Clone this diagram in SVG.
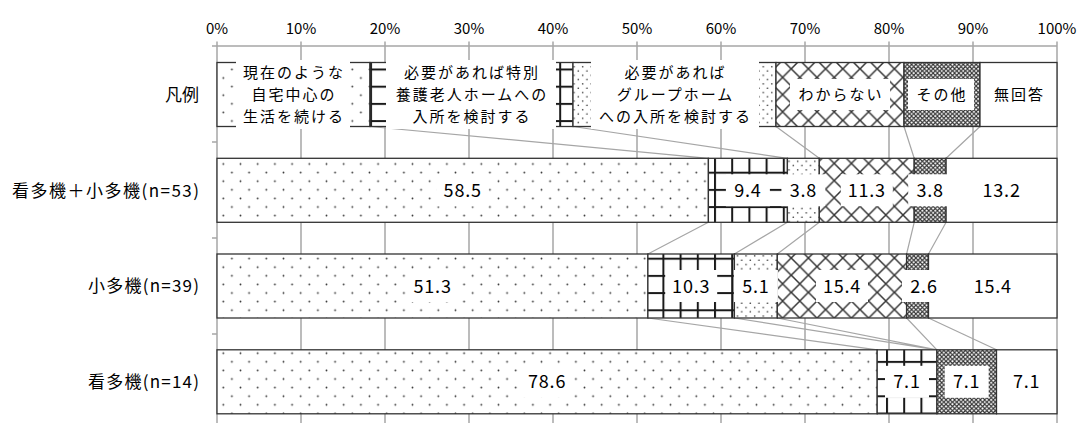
<svg xmlns="http://www.w3.org/2000/svg" width="1078" height="423" viewBox="0 0 1078 423">
<style>
text{font-family:"Noto Sans CJK JP","Noto Sans CJK SC",sans-serif;fill:#000}
.ax{font-size:15px;text-anchor:middle}
.val{font-size:18px;text-anchor:middle;letter-spacing:0.8px}
.leg{font-size:15px;text-anchor:middle;letter-spacing:2px}
.cat{font-size:17px;text-anchor:end}
.seg{stroke:#333;stroke-width:1.3}
.gl{stroke:#a6a6a6;stroke-width:1.5;fill:none}
.conn{stroke:#a6a6a6;stroke-width:1.2;fill:none}
.box{fill:#fff}
.dots{fill:url(#pDots)}
.grid{fill:url(#pGrid)}
.fine{fill:url(#pFine)}
.dia{fill:url(#pDia)}
.oth{fill:url(#pOth)}
.wht{fill:#fff}
</style>
<defs>
<pattern id="pDots" patternUnits="userSpaceOnUse" x="219" y="159.7" width="17.2" height="17.2">
<rect width="17.2" height="17.2" fill="#fff"/>
<circle cx="4.3" cy="4.3" r="0.9" fill="#333"/>
<circle cx="12.9" cy="12.9" r="0.9" fill="#333"/>
</pattern>
<pattern id="pGrid" patternUnits="userSpaceOnUse" x="714" y="171.7" width="17.2" height="17.2">
<rect width="17.2" height="17.2" fill="#fff"/>
<rect width="2" height="17.2" fill="#1a1a1a"/>
<rect width="17.2" height="2" fill="#1a1a1a"/>
</pattern>
<pattern id="pFine" patternUnits="userSpaceOnUse" x="0" y="0" width="8.6" height="8.6">
<rect width="8.6" height="8.6" fill="#fff"/>
<circle cx="2.15" cy="2.15" r="0.8" fill="#333"/>
<circle cx="6.45" cy="6.45" r="0.8" fill="#333"/>
</pattern>
<pattern id="pDia" patternUnits="userSpaceOnUse" x="0" y="0" width="17.2" height="17.2">
<rect width="17.2" height="17.2" fill="#fff"/>
<path d="M0 0L17.2 17.2M17.2 0L0 17.2" stroke="#333" stroke-width="1.5"/>
</pattern>
<pattern id="pOth" patternUnits="userSpaceOnUse" x="0" y="0" width="4.3" height="4.3">
<rect width="4.3" height="4.3" fill="#fff"/>
<path d="M0 0L4.3 4.3M4.3 0L0 4.3" stroke="#333" stroke-width="1.1"/>
</pattern>
</defs>
<rect width="1078" height="423" fill="#fff"/>

<g id="axes">
<path class="gl" d="M217 41.5V423M301 41.5V423M385 41.5V423M469 41.5V423M553 41.5V423M637 41.5V423M721 41.5V423M805 41.5V423M889 41.5V423M973 41.5V423M1057 41.5V423"/>
<path class="gl" d="M217 46H1057M212 46H217M212 142H217M212 238H217M212 334H217"/>
<text class="ax" x="217" y="33.5">0%</text>
<text class="ax" x="301" y="33.5">10%</text>
<text class="ax" x="385" y="33.5">20%</text>
<text class="ax" x="469" y="33.5">30%</text>
<text class="ax" x="553" y="33.5">40%</text>
<text class="ax" x="637" y="33.5">50%</text>
<text class="ax" x="721" y="33.5">60%</text>
<text class="ax" x="805" y="33.5">70%</text>
<text class="ax" x="889" y="33.5">80%</text>
<text class="ax" x="973" y="33.5">90%</text>
<text class="ax" x="1057" y="33.5">100%</text>
</g>

<g id="connectors">
<path class="conn" d="M370 126.5L708.4 158.3M573 126.5L787.4 158.3M776 126.5L819.3 158.3M904 126.5L914.2 158.3M980 126.5L946.1 158.3"/>
<path class="conn" d="M708.4 222.3L647.9 254M787.4 222.3L734.4 254M819.3 222.3L777.3 254M914.2 222.3L906.6 254M946.1 222.3L928.5 254"/>
<path class="conn" d="M647.9 318L877.2 349.8M734.4 318L936.9 349.8M777.3 318L936.9 349.8M906.6 318L936.9 349.8M928.5 318L996.5 349.8"/>
</g>

<g id="legend">
<text class="cat" x="199" y="100.7" textLength="34" lengthAdjust="spacing">凡例</text>
<rect class="seg dots" x="217" y="62.5" width="153" height="64"/>
<rect class="seg grid" x="370" y="62.5" width="203" height="64"/>
<rect class="seg fine" x="573" y="62.5" width="203" height="64"/>
<rect class="seg dia" x="776" y="62.5" width="128" height="64"/>
<rect class="seg oth" x="904" y="62.5" width="76" height="64"/>
<rect class="seg wht" x="980" y="62.5" width="77" height="64"/>
<rect class="box" x="236" y="60" width="114" height="69"/>
<rect class="box" x="386" y="60" width="170" height="69"/>
<rect class="box" x="591" y="60" width="168" height="69"/>
<rect class="box" x="790" y="79" width="100" height="31"/>
<rect class="box" x="908" y="79" width="66" height="31"/>
<text class="leg" x="294" y="78.3">現在のような</text>
<text class="leg" x="294" y="100.3">自宅中心の</text>
<text class="leg" x="294" y="122.3">生活を続ける</text>
<text class="leg" x="472" y="78.3">必要があれば特別</text>
<text class="leg" x="472" y="100.3">養護老人ホームへの</text>
<text class="leg" x="472" y="122.3">入所を検討する</text>
<text class="leg" x="675.5" y="78.3">必要があれば</text>
<text class="leg" x="675.5" y="100.3">グループホーム</text>
<text class="leg" x="675.5" y="122.3">への入所を検討する</text>
<text class="leg" x="841" y="100.3">わからない</text>
<text class="leg" x="942" y="100.3">その他</text>
<text class="leg" x="1019.5" y="100.3">無回答</text>
</g>

<g id="bar-n53">
<text class="cat" x="199" y="196.5" textLength="187" lengthAdjust="spacing">看多機＋小多機(n=53)</text>
<rect class="seg dots" x="217" y="158.3" width="491.4" height="64"/>
<rect class="seg grid" x="708.4" y="158.3" width="79" height="64"/>
<rect class="seg fine" x="787.4" y="158.3" width="31.9" height="64"/>
<rect class="seg dia" x="819.3" y="158.3" width="94.9" height="64"/>
<rect class="seg oth" x="914.2" y="158.3" width="31.9" height="64"/>
<rect class="seg wht" x="946.1" y="158.3" width="110.9" height="64"/>
<rect class="box" x="436.7" y="174.3" width="52" height="32"/>
<rect class="box" x="725.9" y="174.3" width="44" height="32"/>
<rect class="box" x="781.4" y="174.3" width="44" height="32"/>
<rect class="box" x="840.8" y="174.3" width="52" height="32"/>
<rect class="box" x="908.2" y="174.3" width="44" height="32"/>
<text class="val" x="462.7" y="196.8">58.5</text>
<text class="val" x="747.9" y="196.8">9.4</text>
<text class="val" x="803.4" y="196.8">3.8</text>
<text class="val" x="866.8" y="196.8">11.3</text>
<text class="val" x="930.2" y="196.8">3.8</text>
<text class="val" x="1001.6" y="196.8">13.2</text>
</g>

<g id="bar-n39">
<text class="cat" x="199" y="292.2" textLength="111" lengthAdjust="spacing">小多機(n=39)</text>
<rect class="seg dots" x="217" y="254" width="430.9" height="64"/>
<rect class="seg grid" x="647.9" y="254" width="86.5" height="64"/>
<rect class="seg fine" x="734.4" y="254" width="42.9" height="64"/>
<rect class="seg dia" x="777.3" y="254" width="129.3" height="64"/>
<rect class="seg oth" x="906.6" y="254" width="21.9" height="64"/>
<rect class="seg wht" x="928.5" y="254" width="128.5" height="64"/>
<rect class="box" x="406.6" y="270" width="52" height="32"/>
<rect class="box" x="665.2" y="270" width="52" height="32"/>
<rect class="box" x="733.9" y="270" width="44" height="32"/>
<rect class="box" x="816" y="270" width="52" height="32"/>
<rect class="box" x="902" y="270" width="44" height="32"/>
<text class="val" x="432.6" y="292.5">51.3</text>
<text class="val" x="691.2" y="292.5">10.3</text>
<text class="val" x="755.9" y="292.5">5.1</text>
<text class="val" x="842" y="292.5">15.4</text>
<text class="val" x="924" y="292.5">2.6</text>
<text class="val" x="992.8" y="292.5">15.4</text>
</g>

<g id="bar-n14">
<text class="cat" x="199" y="388" textLength="111" lengthAdjust="spacing">看多機(n=14)</text>
<rect class="seg dots" x="217" y="349.8" width="660.2" height="64"/>
<rect class="seg grid" x="877.2" y="349.8" width="59.7" height="64"/>
<rect class="seg oth" x="936.9" y="349.8" width="59.6" height="64"/>
<rect class="seg wht" x="996.5" y="349.8" width="60.5" height="64"/>
<rect class="box" x="521.1" y="365.8" width="52" height="32"/>
<rect class="box" x="885" y="365.8" width="44" height="32"/>
<rect class="box" x="944.7" y="365.8" width="44" height="32"/>
<text class="val" x="547.1" y="388.3">78.6</text>
<text class="val" x="907" y="388.3">7.1</text>
<text class="val" x="966.7" y="388.3">7.1</text>
<text class="val" x="1026.6" y="388.3">7.1</text>
</g>
</svg>
